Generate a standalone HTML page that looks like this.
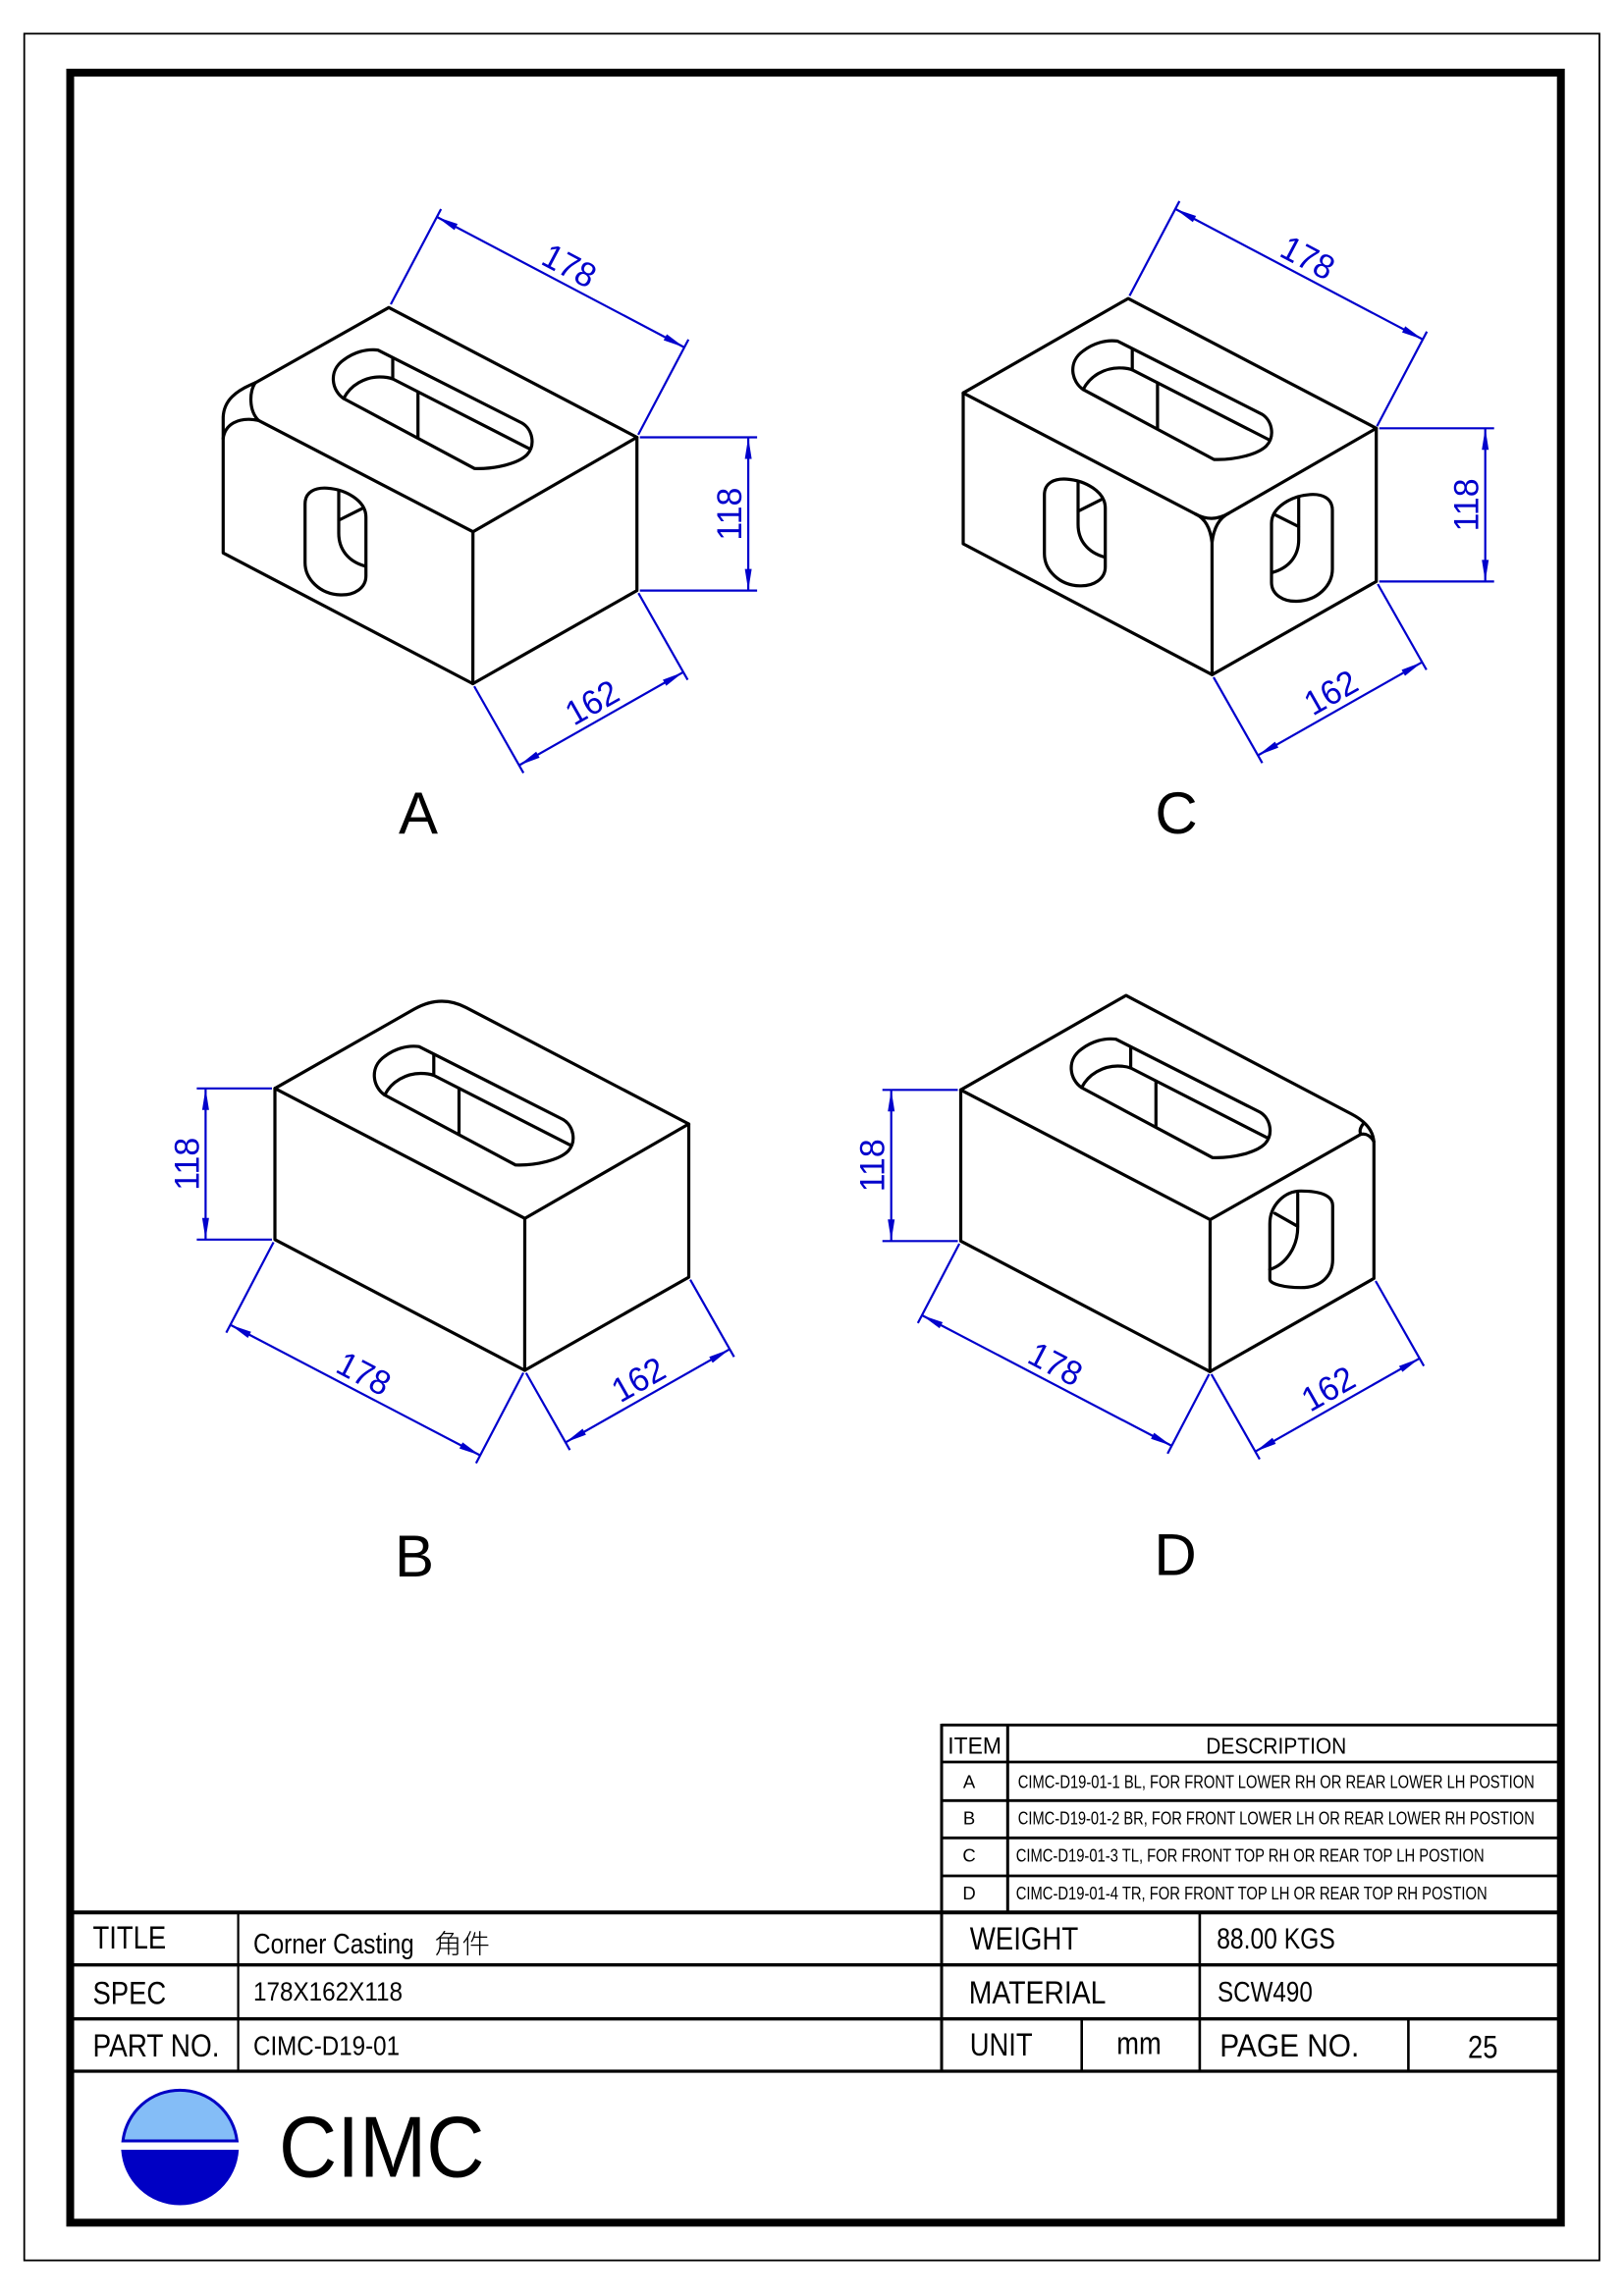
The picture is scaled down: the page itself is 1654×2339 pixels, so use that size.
<!DOCTYPE html>
<html>
<head>
<meta charset="utf-8">
<style>
  html,body{margin:0;padding:0;background:#fff;}
  svg{display:block;}
  .k{fill:none;stroke:#000;stroke-width:3.2;stroke-linejoin:round;stroke-linecap:round;}
  .dm line{stroke:#0000cc;stroke-width:2.2;}
  .dm polygon{fill:#0000cc;stroke:none;}
  .dm text{fill:#0000cc;font-family:"Liberation Sans",Arial,sans-serif;font-size:35px;text-anchor:middle;}
  .lbl{font-family:"Liberation Sans",Arial,sans-serif;font-size:60px;fill:#000;text-anchor:middle;}
  .t{font-family:"Liberation Sans",Arial,sans-serif;fill:#000;}
</style>
</head>
<body>
<svg width="1654" height="2339" viewBox="0 0 1654 2339" xmlns="http://www.w3.org/2000/svg">
<rect x="0" y="0" width="1654" height="2339" fill="#fff"/>

<!-- borders -->
<rect x="24.7" y="34.3" width="1604.3" height="2268.4" fill="none" stroke="#000" stroke-width="1.8"/>
<rect x="71.5" y="74" width="1518.2" height="2190.3" fill="none" stroke="#000" stroke-width="8"/>

<!-- ================= BOX A ================= -->
<g class="k">
  <path d="M260,390 L396,313.3 L648.7,445.5 L648.7,601.6 L481.6,696.5 L227.3,563.3 L227.3,425 C228,408 240,398 260,390"/>
  <path d="M263.3,428.3 L481.7,541.7 L648.7,445.5"/>
  <path d="M481.7,541.7 L481.6,696.5"/>
  <path d="M260,390 C254,398 253,418 263.3,428.3"/>
  <path d="M227.3,446.7 C229,433 242,424 263.3,428.3"/>
  <!-- slot -->
  <path d="M385,356.7 L531.7,431 C542,437 546,453 536.7,463.3 C528,472 505,478 483.3,477.3 L350,406 C338,398 334,378 350,366.7 C360,359 373,355 385,356.7 Z"/>
  <path d="M350,406 C357,392 372,384 386.7,384 C392,384 396,384.5 400,386 L538.3,456.7"/>
  <path d="M400,365 L400,386 M425.7,399.3 L425.7,445"/>
  <!-- hole -->
  <path d="M310.7,513.3 C310.7,501 321,496.5 333.3,497.3 C352,498.5 372.7,510 372.7,526.7 L372.7,586.7 C372.7,599 361,606.5 346.7,606 C326,605.5 310.7,590 310.7,573.3 Z"/>
  <path d="M345,500 L345,543.3 M345,530 L368.3,518.3 M345,543.3 C345,560 355,572 371.7,576.7"/>
</g>
<!-- A dims -->
<g class="dm" transform="translate(396.6,312.7) rotate(27.8)">
  <line x1="0" y1="-3" x2="0" y2="-112.7"/><line x1="284.9" y1="-3" x2="284.9" y2="-112.7"/>
  <line x1="0" y1="-103.7" x2="284.9" y2="-103.7"/>
  <polygon points="0,-103.7 22,-107.2 22,-100.2"/><polygon points="284.9,-103.7 262.9,-107.2 262.9,-100.2"/>
  <text x="142.5" y="-110.7" textLength="56" lengthAdjust="spacingAndGlyphs">178</text>
</g>
<g class="dm" transform="translate(648.7,601.6) rotate(-90)">
  <line x1="0" y1="3" x2="0" y2="122.4"/><line x1="156.1" y1="3" x2="156.1" y2="122.4"/>
  <line x1="0" y1="113.4" x2="156.1" y2="113.4"/>
  <polygon points="0,113.4 22,109.9 22,116.9"/><polygon points="156.1,113.4 134.1,109.9 134.1,116.9"/>
  <text x="78" y="106.4" textLength="54" lengthAdjust="spacingAndGlyphs">118</text>
</g>
<g class="dm" transform="translate(481.5,696.5) rotate(-29.58)">
  <line x1="0" y1="3" x2="0" y2="104.6"/><line x1="192.3" y1="3" x2="192.3" y2="104.6"/>
  <line x1="0" y1="95.6" x2="192.3" y2="95.6"/>
  <polygon points="0,95.6 22,92.1 22,99.1"/><polygon points="192.3,95.6 170.3,92.1 170.3,99.1"/>
  <text x="96.2" y="88.6" textLength="56" lengthAdjust="spacingAndGlyphs">162</text>
</g>
<text class="lbl" x="426" y="849">A</text>

<!-- ================= BOX C ================= -->
<g class="k">
  <path d="M981,400.3 L1149,304.1 L1401.7,436.3 L1401.7,592.4 L1234.5,687.3 L981,554 Z"/>
  <path d="M981,400.3 L1217.3,523.5 Q1234.5,533 1251.6,522.8 L1401.7,436.3"/>
  <path d="M1217.3,523.5 Q1232,530 1234.4,552.8 M1251.6,522.8 Q1237,530 1234.4,552.8 M1234.4,552.8 L1234.5,687.3"/>
  <g transform="translate(753.2,-9.2)">
    <path d="M385,356.7 L531.7,431 C542,437 546,453 536.7,463.3 C528,472 505,478 483.3,477.3 L350,406 C338,398 334,378 350,366.7 C360,359 373,355 385,356.7 Z"/>
    <path d="M350,406 C357,392 372,384 386.7,384 C392,384 396,384.5 400,386 L538.3,456.7"/>
    <path d="M400,365 L400,386 M425.7,399.3 L425.7,445"/>
  </g>
  <g transform="translate(753,-9.2)">
    <path d="M310.7,513.3 C310.7,501 321,496.5 333.3,497.3 C352,498.5 372.7,510 372.7,526.7 L372.7,586.7 C372.7,599 361,606.5 346.7,606 C326,605.5 310.7,590 310.7,573.3 Z"/>
    <path d="M345,500 L345,543.3 M345,530 L368.3,518.3 M345,543.3 C345,560 355,572 371.7,576.7"/>
  </g>
  <g transform="translate(1667.7,6.5) scale(-1,1)">
    <path d="M310.7,513.3 C310.7,501 321,496.5 333.3,497.3 C352,498.5 372.7,510 372.7,526.7 L372.7,586.7 C372.7,599 361,606.5 346.7,606 C326,605.5 310.7,590 310.7,573.3 Z"/>
    <path d="M345,500 L345,543.3 M345,530 L368.3,518.3 M345,543.3 C345,560 355,572 371.7,576.7"/>
  </g>
</g>
<g class="dm" transform="translate(1149,304) rotate(27.8)">
  <line x1="0" y1="-3" x2="0" y2="-112"/><line x1="284.9" y1="-3" x2="284.9" y2="-112"/>
  <line x1="0" y1="-103" x2="284.9" y2="-103"/>
  <polygon points="0,-103 22,-106.5 22,-99.5"/><polygon points="284.9,-103 262.9,-106.5 262.9,-99.5"/>
  <text x="142.5" y="-110" textLength="56" lengthAdjust="spacingAndGlyphs">178</text>
</g>
<g class="dm" transform="translate(1401.7,592.4) rotate(-90)">
  <line x1="0" y1="3" x2="0" y2="120"/><line x1="156.1" y1="3" x2="156.1" y2="120"/>
  <line x1="0" y1="111" x2="156.1" y2="111"/>
  <polygon points="0,111 22,107.5 22,114.5"/><polygon points="156.1,111 134.1,107.5 134.1,114.5"/>
  <text x="78" y="104" textLength="54" lengthAdjust="spacingAndGlyphs">118</text>
</g>
<g class="dm" transform="translate(1234.5,687.3) rotate(-29.58)">
  <line x1="0" y1="3" x2="0" y2="103.5"/><line x1="192.3" y1="3" x2="192.3" y2="103.5"/>
  <line x1="0" y1="94.5" x2="192.3" y2="94.5"/>
  <polygon points="0,94.5 22,91 22,98"/><polygon points="192.3,94.5 170.3,91 170.3,98"/>
  <text x="96.2" y="87.5" textLength="56" lengthAdjust="spacingAndGlyphs">162</text>
</g>
<text class="lbl" x="1198" y="849">C</text>

<!-- ================= BOX B ================= -->
<g class="k">
  <path d="M280,1108.8 L421.9,1028 Q448.8,1012.8 474.7,1026.4 L701.5,1145 L701.5,1301.1 L534.4,1396 L280,1262.8 Z"/>
  <path d="M280,1108.8 L534.5,1241.2 L701.5,1145"/>
  <path d="M534.5,1241.2 L534.4,1396"/>
  <g transform="translate(41.8,709.5)">
    <path d="M385,356.7 L531.7,431 C542,437 546,453 536.7,463.3 C528,472 505,478 483.3,477.3 L350,406 C338,398 334,378 350,366.7 C360,359 373,355 385,356.7 Z"/>
    <path d="M350,406 C357,392 372,384 386.7,384 C392,384 396,384.5 400,386 L538.3,456.7"/>
    <path d="M400,365 L400,386 M425.7,399.3 L425.7,445"/>
  </g>
</g>
<g class="dm" transform="translate(280,1262.8) rotate(-90)">
  <line x1="0" y1="-3" x2="0" y2="-79.6"/><line x1="154" y1="-3" x2="154" y2="-79.6"/>
  <line x1="0" y1="-70.6" x2="154" y2="-70.6"/>
  <polygon points="0,-70.6 22,-74.1 22,-67.1"/><polygon points="154,-70.6 132,-74.1 132,-67.1"/>
  <text x="77" y="-77.6" textLength="54" lengthAdjust="spacingAndGlyphs">118</text>
</g>
<g class="dm" transform="translate(280,1262.8) rotate(27.6)">
  <line x1="0" y1="3" x2="0" y2="107"/><line x1="287.1" y1="3" x2="287.1" y2="107"/>
  <line x1="0" y1="98" x2="287.1" y2="98"/>
  <polygon points="0,98 22,94.5 22,101.5"/><polygon points="287.1,98 265.1,94.5 265.1,101.5"/>
  <text x="143.5" y="91" textLength="56" lengthAdjust="spacingAndGlyphs">178</text>
</g>
<g class="dm" transform="translate(534.3,1396) rotate(-29.58)">
  <line x1="0" y1="3" x2="0" y2="93.4"/><line x1="192.3" y1="3" x2="192.3" y2="93.4"/>
  <line x1="0" y1="84.4" x2="192.3" y2="84.4"/>
  <polygon points="0,84.4 22,80.9 22,87.9"/><polygon points="192.3,84.4 170.3,80.9 170.3,87.9"/>
  <text x="96.2" y="77.4" textLength="56" lengthAdjust="spacingAndGlyphs">162</text>
</g>
<text class="lbl" x="422" y="1606">B</text>

<!-- ================= BOX D ================= -->
<g class="k">
  <path d="M978.5,1110.3 L1146.8,1014.1 L1376.7,1135 C1390,1142 1399.3,1152 1399.3,1165 L1399.3,1302.4 L1232.3,1397.3 L978.5,1264.3 Z"/>
  <path d="M978.5,1110.3 L1232.5,1242.5 L1386,1155.5"/>
  <path d="M1232.5,1242.5 L1232.3,1397.3"/>
  <path d="M1388.3,1145 C1385,1149 1384.5,1153 1386,1155.5 M1386,1155.5 C1391,1154.5 1396,1157 1399.3,1163"/>
  <g transform="translate(751.6,702)">
    <path d="M385,356.7 L531.7,431 C542,437 546,453 536.7,463.3 C528,472 505,478 483.3,477.3 L350,406 C338,398 334,378 350,366.7 C360,359 373,355 385,356.7 Z"/>
    <path d="M350,406 C357,392 372,384 386.7,384 C392,384 396,384.5 400,386 L538.3,456.7"/>
    <path d="M400,365 L400,386 M425.7,399.3 L425.7,445"/>
  </g>
  <path d="M1293.3,1246.7 C1293.3,1228 1308,1213.3 1325,1213.3 C1345,1213.3 1357.3,1218 1357.3,1228.3 L1357.3,1283.3 C1357.3,1300 1345,1311.7 1325,1311.7 C1308,1311.7 1293.3,1308 1293.3,1303.3 Z"/>
  <path d="M1321.7,1216 L1321.7,1250 M1298.3,1236 L1321.7,1249.3 M1321.7,1250 C1321.7,1270 1310,1288 1293.3,1293.3"/>
</g>
<g class="dm" transform="translate(978.5,1264.3) rotate(-90)">
  <line x1="0" y1="-3" x2="0" y2="-79.8"/><line x1="154" y1="-3" x2="154" y2="-79.8"/>
  <line x1="0" y1="-70.8" x2="154" y2="-70.8"/>
  <polygon points="0,-70.8 22,-74.3 22,-67.3"/><polygon points="154,-70.8 132,-74.3 132,-67.3"/>
  <text x="77" y="-77.8" textLength="54" lengthAdjust="spacingAndGlyphs">118</text>
</g>
<g class="dm" transform="translate(978.5,1264.3) rotate(27.6)">
  <line x1="0" y1="3" x2="0" y2="94.3"/><line x1="287" y1="3" x2="287" y2="94.3"/>
  <line x1="0" y1="85.3" x2="287" y2="85.3"/>
  <polygon points="0,85.3 22,81.8 22,88.8"/><polygon points="287,85.3 265,81.8 265,88.8"/>
  <text x="143.5" y="78.3" textLength="56" lengthAdjust="spacingAndGlyphs">178</text>
</g>
<g class="dm" transform="translate(1232.3,1397.3) rotate(-29.58)">
  <line x1="0" y1="3" x2="0" y2="102.6"/><line x1="192.3" y1="3" x2="192.3" y2="102.6"/>
  <line x1="0" y1="93.6" x2="192.3" y2="93.6"/>
  <polygon points="0,93.6 22,90.1 22,97.1"/><polygon points="192.3,93.6 170.3,90.1 170.3,97.1"/>
  <text x="96.2" y="86.6" textLength="56" lengthAdjust="spacingAndGlyphs">162</text>
</g>
<text class="lbl" x="1197" y="1604.5">D</text>

<!-- ================= ITEM TABLE ================= -->
<g stroke="#000" stroke-width="2.8" fill="none">
  <line x1="959" y1="1757.3" x2="1589.7" y2="1757.3"/>
  <line x1="959" y1="1795" x2="1589.7" y2="1795"/>
  <line x1="959" y1="1834.3" x2="1589.7" y2="1834.3"/>
  <line x1="959" y1="1872.3" x2="1589.7" y2="1872.3"/>
  <line x1="959" y1="1911" x2="1589.7" y2="1911"/>
  <line x1="959" y1="1756" x2="959" y2="2110" stroke-width="3"/>
  <line x1="1026.3" y1="1756" x2="1026.3" y2="1948.3" stroke-width="3"/>
</g>
<g class="t">
  <text x="965.3" y="1786.7" font-size="24" textLength="54.7" lengthAdjust="spacingAndGlyphs">ITEM</text>
  <text x="1228.3" y="1786.7" font-size="23" textLength="143" lengthAdjust="spacingAndGlyphs">DESCRIPTION</text>
  <text x="987" y="1821.7" font-size="18.5" text-anchor="middle">A</text>
  <text x="987" y="1858.3" font-size="18.5" text-anchor="middle">B</text>
  <text x="987" y="1896.7" font-size="18.5" text-anchor="middle">C</text>
  <text x="987" y="1935" font-size="18.5" text-anchor="middle">D</text>
  <text x="1036.8" y="1821.7" font-size="18.5" textLength="526" lengthAdjust="spacingAndGlyphs">CIMC-D19-01-1 BL, FOR FRONT LOWER RH OR REAR LOWER LH POSTION</text>
  <text x="1036.8" y="1858.3" font-size="18.5" textLength="526" lengthAdjust="spacingAndGlyphs">CIMC-D19-01-2 BR, FOR FRONT LOWER LH OR REAR LOWER RH POSTION</text>
  <text x="1034.7" y="1896.7" font-size="18.5" textLength="477" lengthAdjust="spacingAndGlyphs">CIMC-D19-01-3 TL, FOR FRONT TOP RH OR REAR TOP LH POSTION</text>
  <text x="1034.7" y="1935" font-size="18.5" textLength="480" lengthAdjust="spacingAndGlyphs">CIMC-D19-01-4 TR, FOR FRONT TOP LH OR REAR TOP RH POSTION</text>
</g>

<!-- ================= TITLE BLOCK ================= -->
<g stroke="#000" fill="none">
  <line x1="71.5" y1="1948.3" x2="1589.7" y2="1948.3" stroke-width="4"/>
  <line x1="71.5" y1="2001.7" x2="1589.7" y2="2001.7" stroke-width="3.3"/>
  <line x1="71.5" y1="2056.7" x2="1589.7" y2="2056.7" stroke-width="3.3"/>
  <line x1="71.5" y1="2110" x2="1589.7" y2="2110" stroke-width="3.3"/>
  <line x1="242.6" y1="1948.3" x2="242.6" y2="2110" stroke-width="2.2"/>
  <line x1="1221.9" y1="1948.3" x2="1221.9" y2="2110" stroke-width="2.6"/>
  <line x1="1101.7" y1="2056.7" x2="1101.7" y2="2110" stroke-width="2.6"/>
  <line x1="1434.4" y1="2056.7" x2="1434.4" y2="2110" stroke-width="2.6"/>
</g>
<g class="t">
  <text x="94.5" y="1985" font-size="32" textLength="74.7" lengthAdjust="spacingAndGlyphs">TITLE</text>
  <text x="258" y="1990" font-size="29" textLength="163.7" lengthAdjust="spacingAndGlyphs">Corner Casting</text>
  <text x="442" y="1990" font-size="27" style='font-family:"Liberation Sans","Noto Sans CJK SC",sans-serif;font-weight:300' textLength="57" lengthAdjust="spacingAndGlyphs">角件</text>
  <text x="94.5" y="2041.7" font-size="32" textLength="74.7" lengthAdjust="spacingAndGlyphs">SPEC</text>
  <text x="258" y="2038" font-size="27" textLength="152" lengthAdjust="spacingAndGlyphs">178X162X118</text>
  <text x="94.5" y="2095" font-size="32" textLength="129" lengthAdjust="spacingAndGlyphs">PART NO.</text>
  <text x="258" y="2093.3" font-size="28" textLength="149" lengthAdjust="spacingAndGlyphs">CIMC-D19-01</text>

  <text x="987.7" y="1986" font-size="32" textLength="110.6" lengthAdjust="spacingAndGlyphs">WEIGHT</text>
  <text x="1239.2" y="1985" font-size="30" textLength="120.6" lengthAdjust="spacingAndGlyphs">88.00 KGS</text>
  <text x="986.8" y="2041" font-size="32" textLength="139.6" lengthAdjust="spacingAndGlyphs">MATERIAL</text>
  <text x="1240" y="2039" font-size="29" textLength="96.8" lengthAdjust="spacingAndGlyphs">SCW490</text>
  <text x="987.7" y="2094" font-size="32" textLength="64" lengthAdjust="spacingAndGlyphs">UNIT</text>
  <text x="1137.3" y="2092.7" font-size="32" textLength="45.5" lengthAdjust="spacingAndGlyphs">mm</text>
  <text x="1242.3" y="2095" font-size="32" textLength="142" lengthAdjust="spacingAndGlyphs">PAGE  NO.</text>
  <text x="1495" y="2096.7" font-size="32" textLength="30.4" lengthAdjust="spacingAndGlyphs">25</text>

  <text x="284" y="2217.3" font-size="88" textLength="209.5" lengthAdjust="spacingAndGlyphs">CIMC</text>
</g>

<!-- logo -->
<path d="M125.2,2181 A58.5,58.5 0 0 1 241.4,2181 Z" fill="#84bdf7" stroke="#0000c4" stroke-width="3"/>
<path d="M123.4,2190 A60,60 0 0 0 243.2,2190 Z" fill="#0000c4"/>

</svg>
</body>
</html>
